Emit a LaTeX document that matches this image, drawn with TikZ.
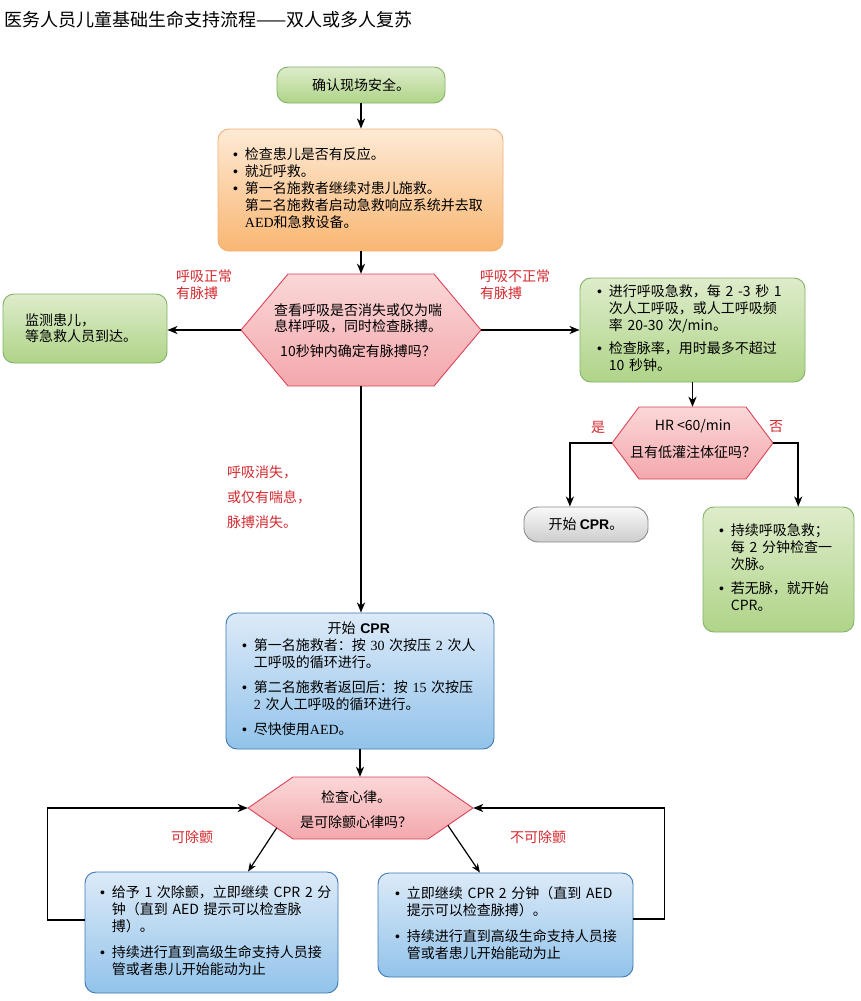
\documentclass[tikz,border=0pt]{standalone}
\usepackage{fontspec}
\setmainfont{Noto Sans CJK SC}
\newfontfamily\lsans{Liberation Sans}
\newfontfamily\lserif{Liberation Serif}
\usetikzlibrary{arrows.meta,calc}
\newcommand\rn[1]{{\lserif #1}}
\newcommand\bul{{\lsans\textbullet}}
\definecolor{gtop}{HTML}{DEECCB}
\definecolor{gbot}{HTML}{AFD488}
\definecolor{gstroke}{HTML}{82B366}
\definecolor{otop}{HTML}{FDEAD5}
\definecolor{obot}{HTML}{F9B672}
\definecolor{ostroke}{HTML}{F2B079}
\definecolor{htop}{HTML}{FBD7D8}
\definecolor{hbot}{HTML}{F3A8AD}
\definecolor{hstroke}{HTML}{DC4358}
\definecolor{btop}{HTML}{DCEAF8}
\definecolor{bbot}{HTML}{92C3EA}
\definecolor{bstroke}{HTML}{3E78B6}
\definecolor{ytop}{HTML}{F9F9F9}
\definecolor{ybot}{HTML}{CDCDCD}
\definecolor{ystroke}{HTML}{8A8A8A}
\definecolor{lred}{HTML}{D42A2F}
\tikzset{
  every node/.style={font=\fontsize{14}{17}\selectfont},
  box/.style={rounded corners=11pt, line width=0.9pt, inner ysep=0pt, align=left},
  gbox/.style={box, draw=gstroke, top color=gtop, bottom color=gbot},
  obox/.style={box, draw=ostroke, top color=otop, bottom color=obot},
  bbox/.style={box, draw=bstroke, top color=btop, bottom color=bbot},
  ybox/.style={box, draw=ystroke, top color=ytop, bottom color=ybot},
  hexfill/.style={draw=hstroke, line width=0.9pt, top color=htop, bottom color=hbot},
  hexsz/.style={draw=none, inner sep=0pt},
  htext/.style={align=center, inner sep=0pt},
  arr/.style={line width=1.8pt, -{Stealth[length=10pt,width=8pt,inset=3pt]}},
  arrthin/.style={line width=1.2pt, -{Stealth[length=9pt,width=7pt,inset=3pt]}},
  lbl/.style={text=lred, align=left, inner sep=0pt},
}
\begin{document}
\begin{tikzpicture}[x=1pt,y=-1pt]
\useasboundingbox (0,0) rectangle (861,1001);
\fill[white] (0,0) rectangle (861,1001);

% title
\node[anchor=west, inner sep=0pt, font=\fontsize{18}{20}\selectfont] (title) at (4,20) {医务人员儿童基础生命支持流程——双人或多人复苏};

% boxes
\node[gbox, minimum width=168pt, minimum height=36pt, align=center] (b1) at (361,85) {确认现场安全。};

\node[obox, minimum width=285pt, minimum height=122pt, text width=255pt, inner xsep=15pt, font=\fontsize{14}{16.5}\selectfont] (b2) at (360.5,190) {\begin{tabular}{@{}l@{\hspace{7pt}}l@{}}
\bul & 检查患儿是否有反应。\\
\bul & 就近呼救。\\
\bul & 第一名施救者继续对患儿施救。\\
 & 第二名施救者启动急救响应系统并去取\\
 & \rn{AED}和急救设备。
\end{tabular}};

\node[gbox, minimum width=164pt, minimum height=69pt, text width=120pt, inner xsep=22pt, font=\fontsize{14}{16}\selectfont] (lb) at (85,328.5) {监测患儿，\\等急救人员到达。};

\node[gbox, minimum width=225pt, minimum height=104pt, text width=191pt, inner xsep=17pt] (rb) at (692.5,330) {\begin{tabular}{@{}l@{\hspace{7pt}}l@{}}
\bul & 进行呼吸急救，每 2 -3 秒 1\\
 & 次人工呼吸，或人工呼吸频\\
 & 率 20-30 次/min。\\[6pt]
\bul & 检查脉率，用时最多不超过\\
 & 10 秒钟。
\end{tabular}};

\node[ybox, rounded corners=14pt, minimum width=124pt, minimum height=35pt, align=center] (gr) at (586,524.5) {开始 {\lsans\bfseries CPR}。};

\node[gbox, minimum width=151pt, minimum height=125pt, text width=119pt, inner xsep=16pt] (gb3) at (778.5,569.5) {\begin{tabular}{@{}l@{\hspace{7pt}}l@{}}
\bul & 持续呼吸急救；\\
 & 每 2 分钟检查一\\
 & 次脉。\\[7pt]
\bul & 若无脉，就开始\\
 & CPR。
\end{tabular}};

\node[bbox, minimum width=268pt, minimum height=136pt, text width=236pt, inner xsep=16pt] (cpr) at (360,681) {\begin{tabular}{@{}l@{\hspace{7pt}}l@{}}
\multicolumn{2}{c}{开始 {\lsans\bfseries CPR}}\\
\bul & 第一名施救者：按 \rn{30} 次按压 \rn{2} 次人\\
 & 工呼吸的循环进行。\\[8pt]
\bul & 第二名施救者返回后：按 \rn{15} 次按压\\
 & \rn{2} 次人工呼吸的循环进行。\\[8pt]
\bul & 尽快使用\rn{AED}。
\end{tabular}};

\node[bbox, minimum width=253pt, minimum height=121pt, text width=223pt, inner xsep=15pt] (b4) at (211.5,932.5) {\begin{tabular}{@{}l@{\hspace{7pt}}l@{}}
\bul & 给予 1 次除颤，立即继续 CPR 2 分\\
 & 钟（直到 AED 提示可以检查脉\\
 & 搏）。\\[9pt]
\bul & 持续进行直到高级生命支持人员接\\
 & 管或者患儿开始能动为止
\end{tabular}};

\node[bbox, minimum width=255pt, minimum height=104pt, text width=221pt, inner xsep=17pt] (b5) at (505.5,925) {\begin{tabular}{@{}l@{\hspace{7pt}}l@{}}
\bul & 立即继续 CPR 2 分钟（直到 AED\\
 & 提示可以检查脉搏）。\\[9pt]
\bul & 持续进行直到高级生命支持人员接\\
 & 管或者患儿开始能动为止
\end{tabular}};

% hexagons
\path[hexfill] (241,330) -- (288,274) -- (434,274) -- (481,330) -- (434,386) -- (288,386) -- cycle;
\node[hexsz, minimum width=240pt, minimum height=112pt] (h1) at (361,330) {};
\node[htext, font=\fontsize{14}{16}\selectfont] (h1t) at (358,331) {查看呼吸是否消失或仅为喘\\息样呼吸，同时检查脉搏。\\[9pt]10秒钟内确定有脉搏吗？};

\path[hexfill] (612,443) -- (639,407) -- (746,407) -- (773,443) -- (746,479) -- (639,479) -- cycle;
\node[hexsz, minimum width=161pt, minimum height=72pt] (h2) at (692.5,443) {};
\node[htext] (h2t) at (693,439) {HR <60/min\\[10pt]且有低灌注体征吗？};

\path[hexfill] (248,808) -- (293,777) -- (428,777) -- (473,808) -- (428,839) -- (293,839) -- cycle;
\node[hexsz, minimum width=225pt, minimum height=62pt] (h3) at (360.5,808) {};
\coordinate (h3bl) at (293,839);
\coordinate (h3br) at (428,839);
\node[htext] (h3t) at (356,809.5) {检查心律。\\[8pt]是可除颤心律吗？};

% labels
\node[lbl, anchor=west] (l1) at (176,285) {呼吸正常\\有脉搏};
\node[lbl, anchor=west] (l2) at (480,285) {呼吸不正常\\有脉搏};
\node[lbl, anchor=west, font=\fontsize{14}{25}\selectfont] (l3) at (227,497) {呼吸消失，\\或仅有喘息，\\脉搏消失。};
\node[lbl] (l4) at (598,427) {是};
\node[lbl] (l5) at (776,427) {否};
\node[lbl] (l6) at (192,837) {可除颤};
\node[lbl] (l7) at (538,837) {不可除颤};

% connectors
\draw[arr] (b1.south) -- (b1.south |- b2.north);
\draw[arr] (h1.north |- b2.south) -- (h1.north);
\draw[arr] (h1.west) -- (h1.west -| lb.east);
\draw[arr] (h1.east) -- (h1.east -| rb.west);
\draw[arr] (rb.south) -- (rb.south |- h2.north);
\draw[arr] (h2.west) -| ($(gr.north west)!0.371!(gr.north east)$);
\draw[arr] (h2.east) -| ($(gb3.north west)!0.63!(gb3.north east)$);
\draw[arr] (h1.south) -- (h1.south |- cpr.north);
\draw[arr] (cpr.south) -- (cpr.south |- h3.north);
\draw[arrthin] ($(h3.west)!0.64!(h3bl)$) -- ($(b4.north west)!0.644!(b4.north east)$);
\draw[arrthin] ($(h3.east)!0.56!(h3br)$) -- ($(b5.north west)!0.4!(b5.north east)$);
\draw[arr] ($(b4.north west)!0.4!(b4.south west)$) -- ++(-37,0) |- (h3.west);
\draw[arr] ($(b5.north east)!0.44!(b5.south east)$) -- ++(31,0) |- (h3.east);
\end{tikzpicture}
\end{document}
